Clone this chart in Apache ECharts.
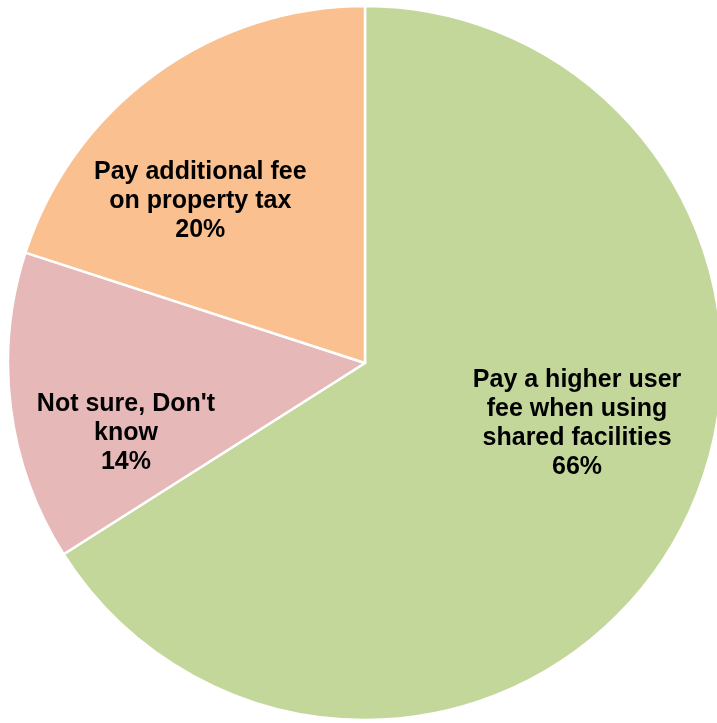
<!DOCTYPE html>
<html><head><meta charset="utf-8">
<script src="https://cdn.jsdelivr.net/npm/echarts@6/dist/echarts.min.js"></script>
<style>html,body{margin:0;padding:0;background:#fff}#c{width:717px;height:723px}</style>
</head><body><div id="c"></div>
<script>
const categories = ["Pay a higher user\nfee when using\nshared facilities", "Not sure, Don't\nknow", "Pay additional fee\non property tax"];
const values = [66, 14, 20];
const colors = ["#c4d79b", "#e6b9b8", "#fac090"];
const labelOffsets = [[53, -27], [-59, 47], [-58, -15]];

const chart = echarts.init(document.getElementById('c'));
chart.setOption({
  backgroundColor: '#ffffff',
  animation: false,
  series: [{
    type: 'pie',
    center: [365, 363],
    radius: 357,
    startAngle: 90,
    clockwise: true,
    avoidLabelOverlap: false,
    itemStyle: { borderColor: '#ffffff', borderWidth: 2.5 },
    label: {
      show: true,
      position: 'inside',
      formatter: p => p.name + '\n' + p.value + '%',
      color: '#000',
      fontFamily: 'Liberation Sans, Arial, sans-serif',
      fontWeight: 'bold',
      fontSize: 25,
      lineHeight: 29,
      align: 'center'
    },
    labelLine: { show: false },
    emphasis: { disabled: true },
    data: categories.map((c, i) => ({
      name: c, value: values[i],
      itemStyle: { color: colors[i] },
      label: { offset: labelOffsets[i] }
    }))
  }]
});
</script></body></html>
